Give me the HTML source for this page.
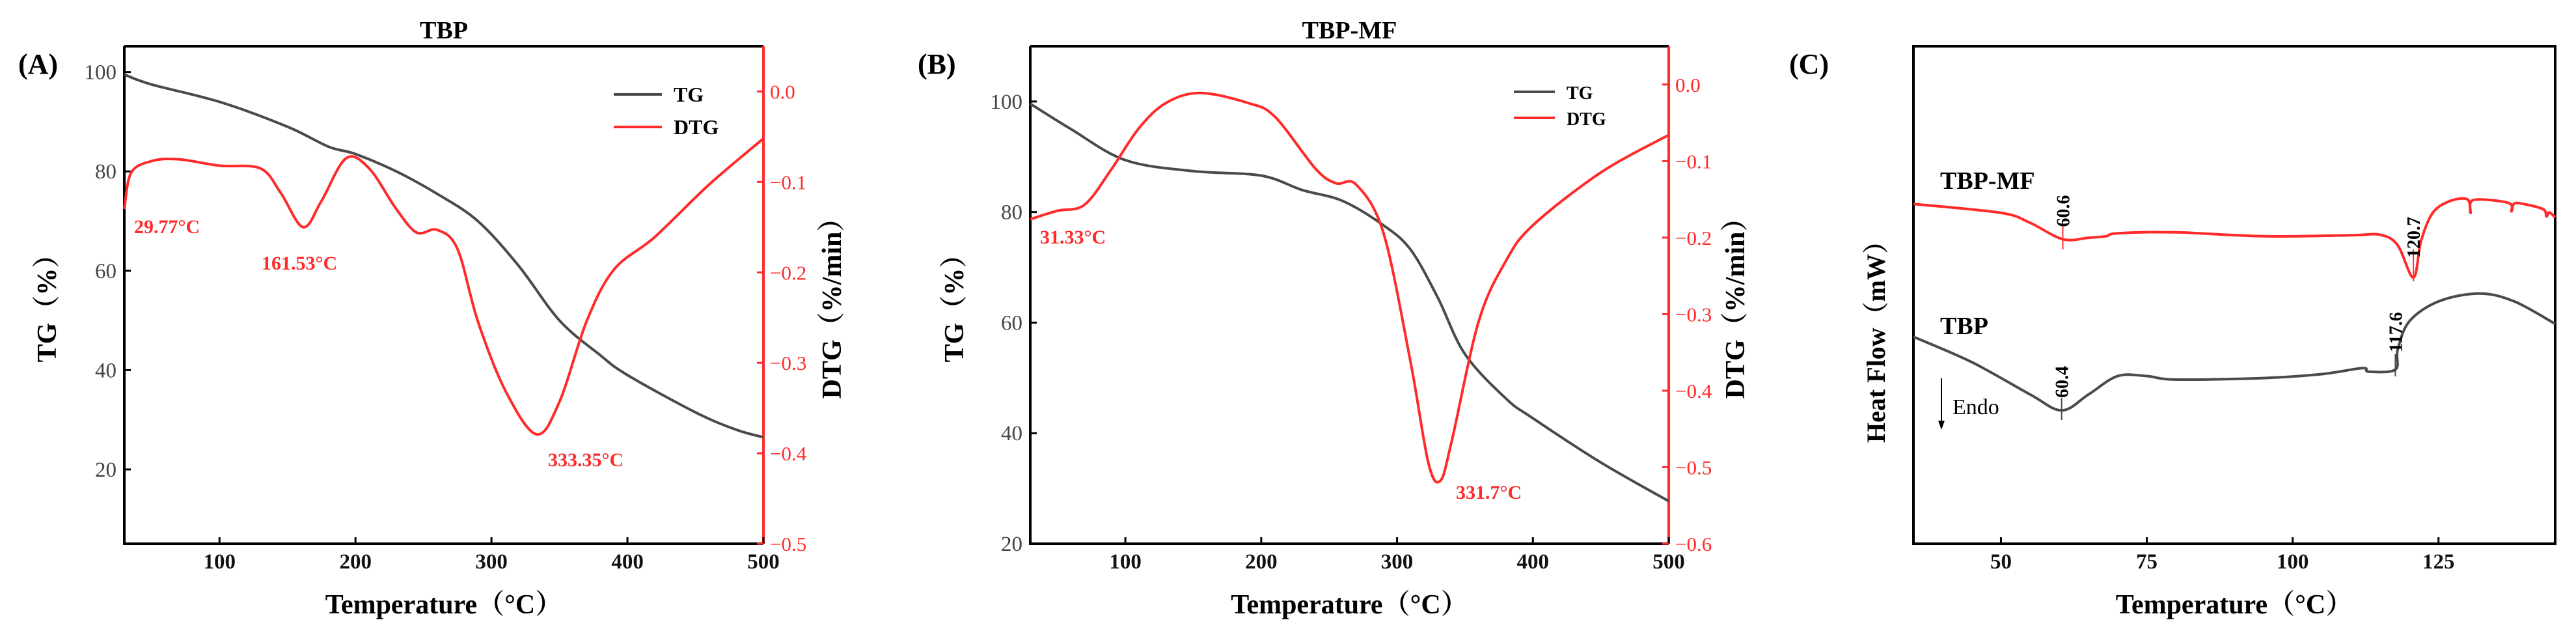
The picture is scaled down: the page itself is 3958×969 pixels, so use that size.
<!DOCTYPE html>
<html><head><meta charset="utf-8"><style>
html,body{margin:0;padding:0;background:#fff;}
svg{display:block;font-family:"Liberation Serif","Noto Serif CJK SC",serif;}
</style></head><body>
<svg id="fig" width="3958" height="969" viewBox="0 0 3958 969" xmlns="http://www.w3.org/2000/svg"></svg>
<script>
// ---------- Data ----------
const aTemp = [30,35,50,70,100,130,145,161.5,175,193,210,230,245,260,275,290,310,333,350,370,390,420,460,500];
const aDTG  = [-0.13,-0.09,-0.077,-0.075,-0.082,-0.085,-0.112,-0.15,-0.121,-0.074,-0.085,-0.13,-0.156,-0.153,-0.174,-0.254,-0.33,-0.379,-0.343,-0.254,-0.197,-0.161,-0.103,-0.052];
const aTGTemp = [30,50,100,150,180,200,230,260,290,320,350,380,400,450,480,500];
const aTG     = [99.5,97.5,94,89,85,83.5,80,75.5,70,61,50,43,39,31.5,28,26.5];

const bTGTemp = [30,60,100,150,200,230,260,290,310,330,350,380,400,450,500];
const bTG     = [99.6,95,89.4,87.4,86.6,84,82,77.6,73.2,64.5,54.3,46.3,42.7,34.7,27.7];
const bTemp = [30,50,70,90,110,130,155,190,210,240,255,270,290,310,323,331.7,340,360,380,400,450,500];
const bDTG  = [-0.176,-0.165,-0.157,-0.11,-0.057,-0.024,-0.011,-0.024,-0.042,-0.11,-0.129,-0.131,-0.194,-0.363,-0.494,-0.518,-0.468,-0.31,-0.231,-0.184,-0.115,-0.066];

const cRedTemp = [35,50,55,60.6,65,68,70,80,95,110,115,118,120.7,122,124,127,130,130.5,131,137,137.5,138,140,143,143.5,144,145];
const cRed     = [68.3,66.5,64.5,61.2,61.5,61.8,62.4,62.6,61.8,62,62.1,60,53.5,60.8,66.5,68.9,69.2,66.5,69.1,68.5,66.8,68.4,68.2,67.2,65.8,66.6,65.6];
const cBlkTemp = [35,45,55,60.4,65,70,75,80,95,105,112,113,117.6,118,120,125,132,138,145];
const cBlk     = [41.6,36.5,30,26.8,30,33.7,33.7,33,33.3,34.1,35.3,34.6,35,39,44.7,48.7,50.3,48.7,44.2];

const xTicksAB = [100,200,300,400,500];
const yTicksA = [20,40,60,80,100];
const yTicksB = [20,40,60,80,100];
const rTicksA = [0,-0.1,-0.2,-0.3,-0.4,-0.5];
const rTicksB = [0,-0.1,-0.2,-0.3,-0.4,-0.5,-0.6];
const xTicksC = [50,75,100,125];

// ---------- Helpers ----------
const NS="http://www.w3.org/2000/svg";
const svg=document.getElementById('fig');
function mk(tag,attrs,parent){const e=document.createElementNS(NS,tag);for(const k in attrs)e.setAttribute(k,attrs[k]);(parent||svg).appendChild(e);return e;}
function txt(s,attrs,parent){const e=mk('text',attrs,parent);e.textContent=s;return e;}
function lin(d0,d1,r0,r1){return v=>r0+(v-d0)/(d1-d0)*(r1-r0);}
function smooth(pts){let d='M'+pts[0][0].toFixed(1)+','+pts[0][1].toFixed(1);
 for(let i=0;i<pts.length-1;i++){const p0=pts[i-1]||pts[i],p1=pts[i],p2=pts[i+1],p3=pts[i+2]||p2;
  const c1=[p1[0]+(p2[0]-p0[0])/6,p1[1]+(p2[1]-p0[1])/6],c2=[p2[0]-(p3[0]-p1[0])/6,p2[1]-(p3[1]-p1[1])/6];
  d+=' C'+c1[0].toFixed(1)+','+c1[1].toFixed(1)+' '+c2[0].toFixed(1)+','+c2[1].toFixed(1)+' '+p2[0].toFixed(1)+','+p2[1].toFixed(1);}
 return d;}
const RED='#ff2a2a', GR='#4a4a4a';
function fmt(v){return v===0?'0.0':'\u2212'+Math.abs(v).toFixed(1);}

function tgPanel(o){
 const g=mk('g',{});
 
 
 const X=lin(30,500,o.L,o.R), Y=lin(o.yMin,o.yMax,835,71), Y2=lin(o.rMin,0.05,835,71);
 const ax=mk('path',{d:`M${o.L},71 L${o.L},835 L${o.R},835`,stroke:'#000','stroke-width':4,fill:'none'},g);
 
 const top=mk('line',{x1:o.L,y1:71,x2:o.R,y2:71,stroke:'#000','stroke-width':4},g);
 
 const ra=mk('line',{x1:o.R,y1:71,x2:o.R,y2:835,stroke:RED,'stroke-width':4},g);
 
 xTicksAB.forEach(v=>{const x=X(v);
  mk('line',{x1:x,y1:835,x2:x,y2:825,stroke:'#000','stroke-width':3},g);
  const t=txt(String(v),{x:x,y:873,'font-size':33,'font-weight':'bold','text-anchor':'middle',fill:'#111'},g);
  });
 o.yTicks.forEach(v=>{const y=Y(v);
  mk('line',{x1:o.L,y1:y,x2:o.L+10,y2:y,stroke:'#000','stroke-width':3},g);
  const t=txt(String(v),{x:o.L-12,y:y+11,'font-size':33,'text-anchor':'end',fill:'#444'},g);
  });
 o.rTicks.forEach(v=>{const y=Y2(v);
  mk('line',{x1:o.R,y1:y,x2:o.R-10,y2:y,stroke:RED,'stroke-width':3},g);
  const t=txt(fmt(v),{x:o.R+10,y:y+11,'font-size':31,fill:RED},g);
  });
 const tg=mk('path',{d:smooth(o.tgT.map((t,i)=>[X(t),Y(o.tg[i])])),stroke:GR,'stroke-width':4,fill:'none'},g);
 
 const dt=mk('path',{d:smooth(o.dT.map((t,i)=>[X(t),Y2(o.d[i])])),stroke:RED,'stroke-width':4,fill:'none'},g);
 
 const tt=txt(o.title,{x:(o.L+o.R)/2,y:59,'font-size':38,'font-weight':'bold','text-anchor':'middle'},g);
 
 const pl=txt(o.letter,{x:o.letterX,y:113,'font-size':44,'font-weight':'bold'},g);
 
 const xt=txt('Temperature（°C）',{x:(o.L+o.R)/2,y:942,'font-size':42,'font-weight':'bold','text-anchor':'middle'},g);
 
 const yt=txt('TG（%）',{x:0,y:0,'font-size':42,'font-weight':'bold','text-anchor':'middle',transform:`translate(${o.ytX},463) rotate(-90)`},g);
 
 const rt=txt('DTG（%/min）',{x:0,y:0,'font-size':42,'font-weight':'bold','text-anchor':'middle',transform:`translate(${o.rtX},463) rotate(-90)`},g);
 
 const lg=mk('g',{},g);
 mk('line',{x1:o.lgX,y1:o.lgY1,x2:o.lgX+o.lgW,y2:o.lgY1,stroke:GR,'stroke-width':4},lg);
 txt('TG',{x:o.lgX+o.lgW+18,y:o.lgY1+11,'font-size':o.lgF,'font-weight':'bold'},lg);
 mk('line',{x1:o.lgX,y1:o.lgY2,x2:o.lgX+o.lgW,y2:o.lgY2,stroke:RED,'stroke-width':4},lg);
 txt('DTG',{x:o.lgX+o.lgW+18,y:o.lgY2+11,'font-size':o.lgF,'font-weight':'bold'},lg);
 o.ann.forEach(a=>{const t=txt(a[0],{x:a[1],y:a[2],'font-size':30,'font-weight':'bold',fill:RED},g);
  });
}
tgPanel({name:'panel-a',L:191,R:1173,yMin:5.05,yMax:105.2,rMin:-0.5,yTicks:yTicksA,rTicks:rTicksA,
 tgT:aTGTemp,tg:aTG,dT:aTemp,d:aDTG,title:'TBP',letter:'(A)',letterX:28,ytX:86,rtX:1292,
 lgX:943,lgW:74,lgY1:145,lgY2:195,lgF:32,
 ann:[['29.77°C',206,358],['161.53°C',402,414],['333.35°C',842,716]]});
tgPanel({name:'panel-b',L:1583,R:2564,yMin:20,yMax:110,rMin:-0.6,yTicks:yTicksB,rTicks:rTicksB,
 tgT:bTGTemp,tg:bTG,dT:bTemp,d:bDTG,title:'TBP-MF',letter:'(B)',letterX:1410,ytX:1480,rtX:2680,
 lgX:2326,lgW:63,lgY1:141,lgY2:181,lgF:28,
 ann:[['31.33°C',1598,374],['331.7°C',2237,766]]});

// ---------- Panel C ----------
(function(){
 const L=2940,R=3926;
 const g=mk('g',{});
 
 
 const X=lin(35,145,L,R), Y=lin(0,100,835,71);
 const box=mk('rect',{x:L,y:71,width:R-L,height:764,fill:'none',stroke:'#000','stroke-width':4},g);
 
 xTicksC.forEach(v=>{const x=X(v);
  mk('line',{x1:x,y1:835,x2:x,y2:825,stroke:'#000','stroke-width':3},g);
  const t=txt(String(v),{x:x,y:873,'font-size':33,'font-weight':'bold','text-anchor':'middle',fill:'#111'},g);
  });
 const r=mk('path',{d:smooth(cRedTemp.map((t,i)=>[X(t),Y(cRed[i])])),stroke:RED,'stroke-width':4,fill:'none'},g);
 
 const b=mk('path',{d:smooth(cBlkTemp.map((t,i)=>[X(t),Y(cBlk[i])])),stroke:GR,'stroke-width':4,fill:'none'},g);
 
 [[60.6,346,383,RED,'60.6',296,352],[120.7,383,432,RED,'120.7',334,395],[60.4,611,645,GR,'60.4',562,611],[117.6,544,578,GR,'117.6',476,544]].forEach(m=>{
  const x=X(m[0]);
  mk('line',{x1:x,y1:m[1],x2:x,y2:m[2],stroke:m[3],'stroke-width':2},g);
  const t=txt(m[4],{x:0,y:0,'font-size':28,'font-weight':'bold','text-anchor':'middle',transform:`translate(${x+10},${(m[5]+m[6])/2}) rotate(-90)`},g);
  });
 const l1=txt('TBP-MF',{x:2981,y:290,'font-size':38,'font-weight':'bold'},g);
 
 const l2=txt('TBP',{x:2981,y:513,'font-size':38,'font-weight':'bold'},g);
 
 const ar=mk('g',{},g);
 mk('line',{x1:2983,y1:581,x2:2983,y2:648,stroke:'#000','stroke-width':2},ar);
 mk('path',{d:'M2978,646 L2988,646 L2983,660 Z',fill:'#000'},ar);
 const en=txt('Endo',{x:3000,y:636,'font-size':34},g);
 
 const pl=txt('(C)',{x:2749,y:113,'font-size':44,'font-weight':'bold'},g);
 
 const xt=txt('Temperature（°C）',{x:(L+R)/2,y:942,'font-size':42,'font-weight':'bold','text-anchor':'middle'},g);
 
 const yt=txt('Heat Flow（mW）',{x:0,y:0,'font-size':40,'font-weight':'bold','text-anchor':'middle',transform:'translate(2896,515) rotate(-90)'},g);
 
})();
</script>
</body></html>
